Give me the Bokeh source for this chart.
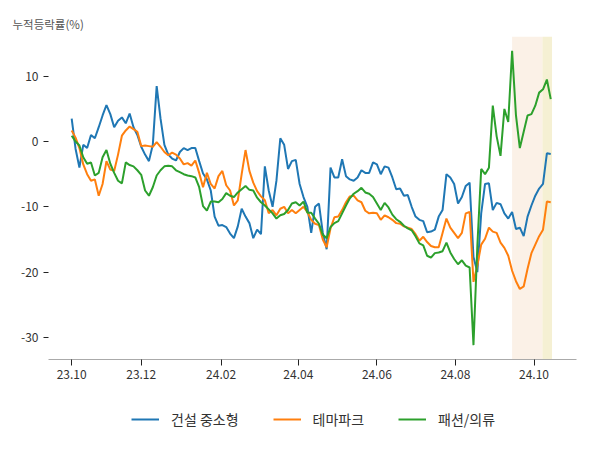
import pandas as pd
from bokeh.plotting import figure
from bokeh.layouts import column
from bokeh.models import Range1d, FixedTicker, Legend, LegendItem, BoxAnnotation, ColumnDataSource
from bokeh.embed import file_html
from bokeh.resources import INLINE

# ---- data (cumulative return %, sampled every 3 days) ----
start_date = "2023-10-08"
n_points = 125
dates = pd.date_range(start_date, periods=n_points, freq="3D")

construction = [
    3.5, -1.1, -4.0, -0.5, -1.0, 1.0, 0.5, 2.2, 4.0, 5.6,
    4.2, 2.2, 3.2, 3.7, 2.8, 4.3, 2.2, 1.0, -0.8, -2.0,
    -3.0, -0.5, 8.5, 3.5, -0.5, -2.0, -2.6, -2.9, -1.6, -1.0,
    -1.3, -1.0, -1.0, -3.0, -4.9, -5.8, -7.5, -11.5, -12.9, -12.8,
    -13.1, -14.1, -14.8, -13.0, -10.3, -11.5, -12.5, -14.8, -13.5, -14.2,
    -3.8, -7.5, -10.0, -6.0, 0.5, -0.5, -4.2, -3.0, -2.8, -6.5,
    -8.5, -10.0, -14.0, -10.0, -9.5, -14.0, -16.5, -4.0, -5.5, -5.5,
    -2.7, -5.3, -5.8, -6.0, -5.5, -4.4, -4.8, -4.8, -3.2, -3.5,
    -5.0, -3.8, -4.0, -5.5, -7.3, -7.2, -8.3, -8.2, -10.0, -11.5,
    -12.0, -12.2, -13.9, -13.8, -13.5, -11.5, -10.5, -5.0, -5.5, -6.5,
    -9.5, -8.5, -6.8, -6.3, -17.7, -20.0, -11.0, -6.5, -6.4, -10.5,
    -9.4, -9.6, -11.0, -11.8, -10.8, -13.4, -13.2, -14.5, -11.5, -9.8,
    -8.3, -7.2, -6.5, -1.8, -1.9,
]

theme_park = [
    1.7, 0.6, -1.0, -3.5, -5.0, -6.0, -5.8, -8.3, -6.5, -3.0,
    -4.3, -4.5, -2.0, 0.9, 1.7, 2.3, 1.9, 1.5, -0.7, -0.6,
    -0.7, -0.8, -0.1, -0.8, -1.6, -2.1, -1.7, -2.0, -2.6, -3.5,
    -3.3, -3.7, -2.9, -4.8, -7.0, -4.8, -6.5, -7.2, -5.3, -4.5,
    -6.7, -7.5, -9.8, -9.0, -5.0, -1.3, -4.5, -6.3, -7.6, -8.4,
    -9.0, -11.0, -10.5, -11.3, -10.3, -10.0, -11.0, -10.5, -11.0, -10.5,
    -10.0, -10.8, -12.0, -12.6, -12.8, -15.0, -16.2, -13.3, -11.6, -11.5,
    -10.5, -9.3, -8.4, -8.3, -9.0, -9.3, -10.6, -11.0, -10.9, -11.0,
    -12.0, -11.3, -11.6, -12.0, -12.5, -12.6, -13.0, -13.2, -13.4, -14.2,
    -15.2, -14.6, -15.4, -16.0, -16.2, -16.2, -14.0, -11.8, -13.2, -14.0,
    -14.8, -14.0, -11.0, -10.8, -21.5, -19.0, -15.8, -14.9, -13.2, -13.8,
    -14.0, -15.5, -16.3, -17.5, -19.8, -21.4, -22.6, -22.2, -19.5, -17.1,
    -15.8, -14.5, -13.5, -9.2, -9.3,
]

fashion = [
    0.9, 0.0, -0.6, -2.4, -3.4, -3.2, -5.2, -4.8, -2.4, -1.3,
    -3.4, -4.8, -6.0, -6.4, -3.2, -3.6, -3.8, -4.4, -5.1, -7.5,
    -8.3, -7.0, -5.2, -4.4, -3.8, -3.7, -3.8, -4.4, -4.7, -5.0,
    -5.2, -5.3, -5.5, -7.0, -9.9, -10.6, -9.2, -9.2, -9.3, -8.8,
    -7.9, -8.3, -8.5, -7.8, -7.3, -6.8, -7.4, -7.5, -8.6, -9.3,
    -9.8, -10.4, -11.0, -11.8, -11.3, -11.1, -10.5, -9.5, -9.3, -9.8,
    -9.2, -10.9, -10.9, -11.8, -12.6, -14.3, -14.8, -13.1, -12.5, -12.2,
    -11.0, -9.8, -8.7, -8.0, -7.6, -7.1, -7.8, -8.0, -8.5, -9.5,
    -10.5, -9.4, -10.1, -11.2, -11.9, -12.3, -12.9, -13.3, -13.6, -14.5,
    -15.6, -15.9, -17.5, -17.8, -17.1, -17.0, -16.8, -15.5, -17.0, -18.0,
    -18.8, -18.2, -19.0, -19.3, -31.2, -16.0, -4.2, -5.0, -4.0, 5.5,
    0.8, -2.2, 5.0, 3.0, 13.9, 4.0, -1.0, 1.5, 4.0, 4.2,
    5.5, 7.5, 8.0, 9.5, 6.5,
]

series_names = ["건설 중소형", "테마파크", "패션/의류"]
series_colors = ["#1f77b4", "#ff7f0e", "#2ca02c"]

tick_dates = ["2023-10-08", "2023-12-01", "2024-02-01", "2024-04-01",
              "2024-06-01", "2024-08-01", "2024-10-01"]
tick_labels = ["23.10", "23.12", "24.02", "24.04", "24.06", "24.08", "24.10"]
y_ticks = [10, 0, -10, -20, -30]
y_tick_labels = ["10", "0", "-10", "-20", "-30"]

shade_month = ("2024-09-14", "2024-10-07 12:00")
shade_week = ("2024-10-07 12:00", "2024-10-15")

x_start, x_end = "2023-09-20", "2024-11-03"
y_start, y_end = -33.4, 16.1


def ms(d):
    return pd.Timestamp(d).value / 1e6


FONT = "Noto Sans CJK KR"

p = figure(width=600, height=395, output_backend="svg", toolbar_location=None,
           x_axis_type="datetime",
           x_range=Range1d(ms(x_start), ms(x_end)),
           y_range=Range1d(y_start, y_end),
           min_border_left=48, min_border_right=24,
           min_border_top=36, min_border_bottom=36)

p.title.text = "누적등락률(%)"
p.title.text_font = FONT
p.title.text_font_size = "11.5px"
p.title.text_font_style = "normal"
p.title.text_color = "#555555"
p.title.align = "left"
p.title.offset = -36

p.outline_line_color = None
p.background_fill_color = "white"
p.border_fill_color = "white"
p.grid.grid_line_color = None

p.add_layout(BoxAnnotation(left=ms(shade_month[0]), right=ms(shade_month[1]),
                           fill_color="#FBF1E7", fill_alpha=1.0, line_color=None,
                           level="underlay"))
p.add_layout(BoxAnnotation(left=ms(shade_week[0]), right=ms(shade_week[1]),
                           fill_color="#F5F0D3", fill_alpha=1.0, line_color=None,
                           level="underlay"))

for vals, col in zip([construction, theme_park, fashion], series_colors):
    src = ColumnDataSource(dict(x=dates, y=vals))
    p.line("x", "y", source=src, line_color=col, line_width=2)

# axes
xa = p.xaxis[0]
xa.ticker = FixedTicker(ticks=[ms(d) for d in tick_dates])
xa.major_label_overrides = {int(ms(d)): lab for d, lab in zip(tick_dates, tick_labels)}
xa.axis_line_color = "#aaaaaa"
xa.axis_line_width = 1
xa.major_tick_line_color = "#222222"
xa.major_tick_out = 6
xa.major_tick_in = 0
xa.minor_tick_line_color = None
xa.major_label_text_font = FONT
xa.major_label_text_font_size = "12px"
xa.major_label_text_color = "#333333"
xa.major_label_standoff = 4

ya = p.yaxis[0]
ya.ticker = FixedTicker(ticks=y_ticks)
ya.major_label_overrides = {t: lab for t, lab in zip(y_ticks, y_tick_labels)}
ya.axis_line_color = None
ya.major_tick_line_color = "#222222"
ya.major_tick_out = 5
ya.major_tick_in = 0
ya.minor_tick_line_color = None
ya.major_label_text_font = FONT
ya.major_label_text_font_size = "12px"
ya.major_label_text_color = "#333333"
ya.major_label_standoff = 5

# ---- legend strip below the chart ----
lg = figure(width=600, height=55, output_backend="svg", toolbar_location=None,
            x_range=Range1d(0, 1), y_range=Range1d(0, 1),
            x_axis_location=None, y_axis_location=None,
            min_border=0, outline_line_color=None)
lg.grid.grid_line_color = None
lg_items = []
for name, col in zip(series_names, series_colors):
    # a key line kept outside the visible range: only its legend entry shows
    r = lg.line(x=[-5, -4], y=[-5, -5], line_color=col, line_width=2)
    lg_items.append(LegendItem(label=name, renderers=[r]))

legend = Legend(items=lg_items, orientation="horizontal", location=(83, 21),
                border_line_color=None, background_fill_alpha=0,
                padding=0, margin=0, spacing=34, label_standoff=12,
                glyph_width=28, glyph_height=20,
                label_text_font=FONT, label_text_font_size="14px",
                label_text_color="#333333")
lg.add_layout(legend, "center")

layout = column(p, lg, spacing=0)
open("out.html", "w").write(file_html(layout, INLINE))
